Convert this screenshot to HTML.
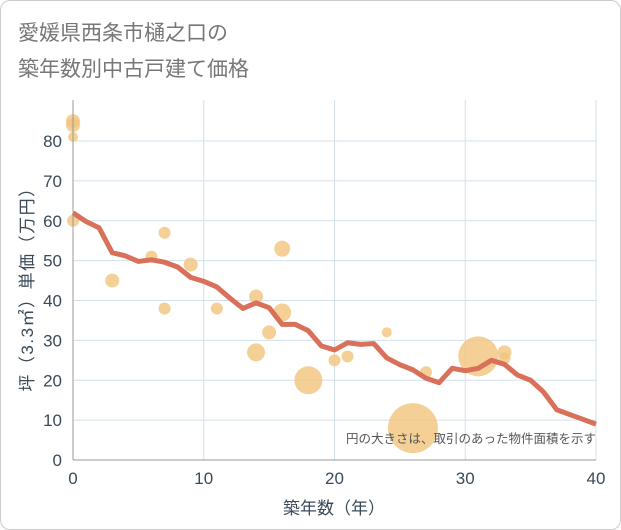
<!DOCTYPE html>
<html><head><meta charset="utf-8"><style>
body{margin:0;background:#fff;font-family:"Liberation Sans","Noto Sans CJK JP",sans-serif}
#wrap{position:absolute;left:0;top:0;width:619px;height:528px;border:1px solid #ccc;border-radius:10px;background:#fff}
</style></head><body>
<div id="wrap">
<svg id="c" width="621" height="530" style="position:absolute;left:-1px;top:-1px">
<text x="18" y="40" font-size="21" fill="#777">愛媛県西条市樋之口の</text>
<text x="18" y="76" font-size="21" fill="#777">築年数別中古戸建て価格</text>
<g id="grid"></g><g id="bub"></g><g id="ln"></g><g id="ax"></g>
<text x="596" y="443" font-size="12.5" fill="#555" text-anchor="end">円の大きさは、取引のあった物件面積を示す</text>
<text x="334" y="514" font-size="17" fill="#3a4a5a" text-anchor="middle">築年数（年）</text>
<text transform="translate(33,285) rotate(-90)" font-size="17" letter-spacing="1.5" fill="#3a4a5a" text-anchor="middle">坪（3.3㎡）単価（万円）</text>
</svg></div>
<script>
const xTicks=[0,10,20,30,40];
const yTicks=[0,10,20,30,40,50,60,70,80];
const lineYears=[0,1,2,3,4,5,6,7,8,9,10,11,12,13,14,15,16,17,18,19,20,21,22,23,24,25,26,27,28,29,30,31,32,33,34,35,36,37,38,39,40];
const lineValues=[62,59.8,58.2,52,51.2,49.8,50.2,49.6,48.4,45.8,44.8,43.4,40.6,38,39.4,38.2,34,34,32.4,28.6,27.6,29.4,29,29.2,25.6,23.9,22.6,20.5,19.4,23,22.4,23,25,24,21.3,20,17,12.6,11.4,10.2,9];
const bubbleYears=[0,0,0,0,3,6,7,7,9,11,14,14,15,16,16,18,20,21,24,26,27,31,33,33];
const bubbleValues=[85,84,81,60,45,51,57,38,49,38,41,27,32,53,37,20,25,26,32,8,22,26,27,25.5];
const bubbleSizes=[7,7,5,6,7,6,6,6,7,6,7,9,7,8,9,14,6,6,5,25,6,20,7,6];
const X=v=>73+v*(596-73)/40, Y=v=>460-v*(460-141)/80;
const NS="http://www.w3.org/2000/svg";
function mk(p,t,a){const e=document.createElementNS(NS,t);for(const k in a)e.setAttribute(k,a[k]);document.getElementById(p).appendChild(e);return e;}
yTicks.forEach(t=>{
 const l=mk('grid','line',{x1:73,x2:596,y1:Y(t),y2:Y(t),stroke:'#d3e0ec','stroke-width':1});
 
 
 const tx=mk('ax','text',{x:62,y:Y(t)+6,'font-size':17,fill:'#3a4a5a','text-anchor':'end'});tx.textContent=t;
 
 
});
xTicks.forEach(t=>{
 const l=mk('grid','line',{x1:X(t),x2:X(t),y1:100,y2:460,stroke:'#d3e0ec','stroke-width':1});
 
 
 const tx=mk('ax','text',{x:X(t),y:484,'font-size':17,fill:'#3a4a5a','text-anchor':'middle'});tx.textContent=t;
 
 
});
const a1=mk('ax','line',{x1:73,x2:73,y1:100,y2:460,stroke:'#999'});


const a2=mk('ax','line',{x1:73,x2:596,y1:460,y2:460,stroke:'#999'});


bubbleYears.forEach((x,i)=>{
 const c=mk('bub','circle',{cx:X(x),cy:Y(bubbleValues[i]),r:bubbleSizes[i],fill:'#f2c47c','fill-opacity':0.8});
 
 
});
const pl=mk('ln','polyline',{points:lineYears.map((x,i)=>X(x)+','+Y(lineValues[i])).join(' '),fill:'none',stroke:'#d8705a','stroke-width':5,'stroke-linejoin':'round'});


</script>
</body></html>
